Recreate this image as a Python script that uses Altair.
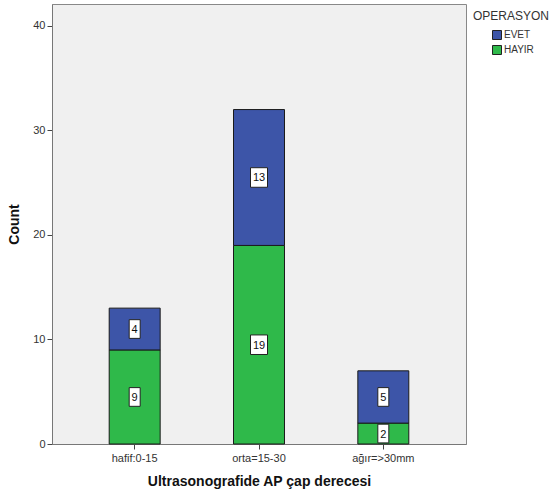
import altair as alt
import pandas as pd

categories = ["hafif:0-15", "orta=15-30", "ağır=>30mm"]
hayir = [9, 19, 2]
evet = [4, 13, 5]
groups = ["EVET", "HAYIR"]
colors = ["#3d55a8", "#2fb94a"]

rows = []
for c, h, e in zip(categories, hayir, evet):
    rows.append({"cat": c, "op": "HAYIR", "n": h, "order": 0, "start": 0, "end": h})
    rows.append({"cat": c, "op": "EVET", "n": e, "order": 1, "start": h, "end": h + e})
df = pd.DataFrame(rows)
df["mid"] = (df["start"] + df["end"]) / 2

FONT = "Liberation Sans"

xenc = alt.X("cat:N", sort=categories,
             scale=alt.Scale(paddingInner=0.59, paddingOuter=0.46),
             axis=alt.Axis(title="Ultrasonografide AP çap derecesi", labelAngle=0,
                           labelFontSize=11, labelColor="#333333", labelFont=FONT,
                           titleFont=FONT, titleFontSize=14, titleFontWeight="bold",
                           titleColor="#111111", titlePadding=11,
                           domainColor="#777777", tickColor="#444444", tickSize=5,
                           labelPadding=3))
yscale = alt.Scale(domain=[0, 42.1], nice=False)

bars = alt.Chart(df).mark_bar(stroke="#1a1a1a", strokeWidth=1).encode(
    x=xenc,
    y=alt.Y("start:Q", scale=yscale,
            axis=alt.Axis(title="Count", values=[0, 10, 20, 30, 40], grid=False,
                          labelFontSize=11, labelColor="#333333", labelFont=FONT,
                          titleFont=FONT, titleFontSize=14, titleFontWeight="bold",
                          titleColor="#111111", titlePadding=11,
                          domainColor="#777777", tickColor="#444444", tickSize=5,
                          labelPadding=2)),
    y2="end:Q",
    color=alt.Color("op:N", scale=alt.Scale(domain=groups, range=colors),
                    legend=alt.Legend(title="OPERASYON", orient="none",
                                      legendX=421, legendY=7,
                                      titleFont=FONT, titleFontSize=12,
                                      titleFontWeight="normal", titleColor="#333333",
                                      labelFont=FONT, labelFontSize=10,
                                      labelColor="#333333", symbolType="square",
                                      symbolSize=81, symbolStrokeColor="#222222",
                                      symbolStrokeWidth=1, rowPadding=1,
                                      symbolOffset=19, labelOffset=2, titlePadding=7)),
)

one = df[df["n"] < 10]
two = df[df["n"] >= 10]

box1 = alt.Chart(one).mark_point(
    shape="M-1,-1.7H1V1.7H-1Z", filled=True, fill="white", stroke="#222222",
    strokeWidth=1, opacity=1, size=121
).encode(x=alt.X("cat:N", sort=categories), y=alt.Y("mid:Q", scale=yscale))

box2 = alt.Chart(two).mark_point(
    shape="M-1,-1.15H1V1.15H-1Z", filled=True, fill="white", stroke="#222222",
    strokeWidth=1, opacity=1, size=289
).encode(x=alt.X("cat:N", sort=categories), y=alt.Y("mid:Q", scale=yscale))

txt = alt.Chart(df).mark_text(font=FONT, fontSize=11, color="#111111",
                              baseline="middle", dy=1).encode(
    x=alt.X("cat:N", sort=categories), y=alt.Y("mid:Q", scale=yscale),
    text="n:Q")

chart = alt.layer(bars, box1, box2, txt).properties(
    width=414, height=440,
    autosize=alt.AutoSizeParams(type="none"),
    padding={"left": 52, "top": 4, "right": 90, "bottom": 53},
    background="white",
).configure_view(fill="#f0f0f0", stroke="#888888", strokeWidth=1)

chart.save("out.html", embed_options={"renderer": "svg", "actions": False})
